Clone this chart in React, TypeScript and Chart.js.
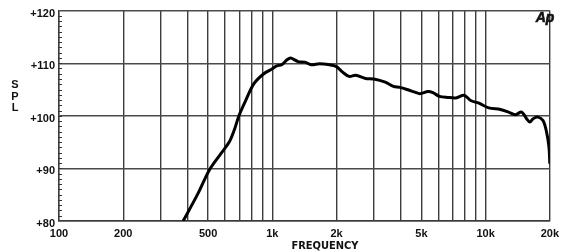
import React, { useEffect, useRef } from 'react';
import { Chart, registerables } from 'chart.js';

Chart.register(...registerables);

// Frequency response (Hz) and SPL (dB)
const FREQ = [382, 448, 507, 574, 628, 662, 699, 750, 820, 912, 996, 1050, 1107, 1168, 1219, 1322, 1420, 1524, 1664, 1852, 1989, 2135, 2291, 2459, 2735, 2990, 3386, 3698, 3972, 4419, 4659, 4912, 5370, 5660, 6077, 6640, 7260, 7930, 8510, 9302, 10350, 11720, 12800, 13750, 14750, 15560, 16130, 16700, 17620, 18580, 19240, 19810, 20000];
const SPL = [80.0, 85.2, 89.7, 92.8, 95.0, 97.2, 100.1, 102.9, 106.1, 108.0, 108.9, 109.5, 109.7, 110.6, 111.0, 110.3, 110.2, 109.7, 109.9, 109.7, 109.4, 108.3, 107.5, 107.7, 107.1, 107.0, 106.4, 105.6, 105.4, 104.8, 104.5, 104.2, 104.6, 104.4, 103.7, 103.5, 103.4, 103.9, 102.9, 102.4, 101.5, 101.2, 100.7, 100.2, 100.7, 99.45, 98.8, 99.45, 99.75, 99.1, 97.2, 94.1, 90.9];

const X_GRID = [100, 200, 300, 400, 500, 600, 700, 800, 900, 1000, 2000, 3000, 4000, 5000, 6000, 7000, 8000, 9000, 10000, 20000];
const X_LABEL_VALUES = [100, 200, 500, 1000, 2000, 5000, 10000, 20000];
const X_LABEL_TEXT = ['100', '200', '500', '1k', '2k', '5k', '10k', '20k'];
const Y_TICKS = [80, 90, 100, 110, 120];
const Y_MINOR_STEP = 1;

const FONT = '"Liberation Sans", Arial, sans-serif';
const NARROW = '"Liberation Sans Narrow", "Arial Narrow", "DejaVu Sans Condensed", sans-serif';

const decorPlugin = {
  id: 'decor',
  afterDraw(chart: any) {
    const { ctx, chartArea, scales } = chart;
    const y = scales.y;
    ctx.save();
    // minor ticks along the left edge
    ctx.strokeStyle = '#333';
    ctx.lineWidth = 1;
    for (let v = Y_TICKS[0] + Y_MINOR_STEP; v < Y_TICKS[Y_TICKS.length - 1]; v += Y_MINOR_STEP) {
      const py = Math.round(y.getPixelForValue(v)) + 0.5;
      ctx.beginPath();
      ctx.moveTo(chartArea.left - 1, py);
      ctx.lineTo(chartArea.left + 3, py);
      ctx.stroke();
    }
    // SPL vertical letters
    ctx.fillStyle = '#111';
    ctx.font = `bold 11px ${FONT}`;
    ctx.textAlign = 'center';
    ctx.textBaseline = 'middle';
    ['S', 'P', 'L'].forEach((ch, i) => ctx.fillText(ch, 15, 85 + i * 11.5));
    // FREQUENCY title
    ctx.font = `bold 11px ${NARROW}`;
    ctx.fillText('FREQUENCY', 325, 246);
    // Ap logo
    ctx.font = `italic bold 14px ${FONT}`;
    ctx.fillText('Ap', 545, 18);
    ctx.lineWidth = 0.6;
    ctx.strokeStyle = '#111';
    ctx.strokeText('Ap', 545, 18);
    ctx.restore();
  },
};

export default function App() {
  const ref = useRef<HTMLCanvasElement | null>(null);
  useEffect(() => {
    if (!ref.current) return;
    const chart = new Chart(ref.current, {
      type: 'line',
      data: {
        datasets: [
          {
            data: FREQ.map((f, i) => ({ x: f, y: SPL[i] })),
            borderColor: '#000',
            borderWidth: 3,
            pointRadius: 0,
            tension: 0.3,
            fill: false,
          },
        ],
      },
      options: {
        responsive: false,
        animation: false,
        layout: { padding: { left: 0, top: 10, right: 8, bottom: 0 } },
        plugins: { legend: { display: false }, tooltip: { enabled: false }, title: { display: false } },
        scales: {
          x: {
            type: 'logarithmic',
            min: 100,
            max: 20000,
            afterBuildTicks: (scale: any) => {
              scale.ticks = X_GRID.map((v) => ({ value: v }));
            },
            afterFit: (scale: any) => {
              scale.height = 31;
            },
            grid: { color: '#3c3c3c', lineWidth: 1.4, drawTicks: false },
            border: { color: '#3c3c3c', width: 1.4 },
            ticks: {
              autoSkip: false,
              maxRotation: 0,
              padding: 6,
              color: '#111',
              font: { family: FONT, weight: 'bold', size: 11 },
              callback: (value: any) => {
                const idx = X_LABEL_VALUES.indexOf(Number(value));
                return idx >= 0 ? X_LABEL_TEXT[idx] : '';
              },
            },
          },
          y: {
            min: Y_TICKS[0],
            max: Y_TICKS[Y_TICKS.length - 1],
            afterBuildTicks: (scale: any) => {
              scale.ticks = Y_TICKS.map((v) => ({ value: v }));
            },
            afterFit: (scale: any) => {
              scale.width = 59;
            },
            grid: { color: '#4a4a4a', lineWidth: 1.4, drawTicks: false },
            border: { color: '#3c3c3c', width: 1.4 },
            ticks: {
              padding: 4,
              labelOffset: 3,
              color: '#111',
              font: { family: FONT, weight: 'bold', size: 11 },
              callback: (value: any) => '+' + value,
            },
          },
        },
      },
      plugins: [decorPlugin],
    });
    return () => chart.destroy();
  }, []);
  return (
    <div style={{ position: 'absolute', left: 0, top: 0, width: 565, height: 252, background: '#fff' }}>
      <canvas ref={ref} width={565} height={252} />
    </div>
  );
}
